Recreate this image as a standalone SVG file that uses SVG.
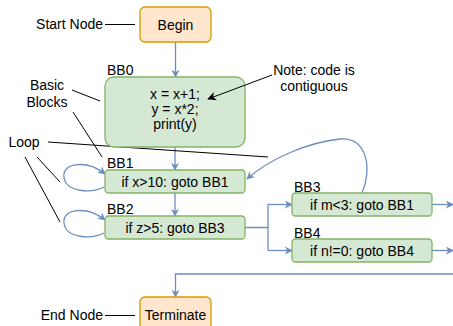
<svg xmlns="http://www.w3.org/2000/svg" width="453" height="326" viewBox="0 0 453 326">
<defs>
<marker id="ab" viewBox="0 0 10 10" refX="9" refY="5" markerWidth="8" markerHeight="8" markerUnits="userSpaceOnUse" orient="auto">
<path d="M0,0 L10,5 L0,10 L3,5 Z" fill="#6c8ebf"/>
</marker>
<marker id="ak" viewBox="0 0 10 10" refX="9" refY="5" markerWidth="9" markerHeight="9" markerUnits="userSpaceOnUse" orient="auto">
<path d="M0,0 L10,5 L0,10 L3,5 Z" fill="#000"/>
</marker>
<style>
text{font-family:"Liberation Sans",Arial,sans-serif;font-size:14px;fill:#000}
.m{text-anchor:middle}
.e{text-anchor:end}
.g{fill:#d5e8d4;stroke:#82b366;stroke-width:1.3}
.o{fill:#ffe6cc;stroke:#d79b00;stroke-width:1.3}
.c{fill:none;stroke:#6c8ebf;stroke-width:1.3;marker-end:url(#ab)}
.cn{fill:none;stroke:#6c8ebf;stroke-width:1.3}
.k{fill:none;stroke:#000;stroke-width:1}
</style>
</defs>
<g id="connectors">
<path class="c" d="M175.5 42 V77"/>
<path class="c" d="M175 147 V170"/>
<path class="c" d="M175 193 V216"/>
<path class="cn" d="M245 227.5 H268 M268 204.5 V250.5"/>
<path class="c" d="M268 204.5 H292"/>
<path class="c" d="M268 250.5 H292"/>
<path class="c" d="M432 204.5 H453"/>
<path class="c" d="M432 250.5 H453"/>
<path class="c" d="M453 274 H175.5 V297"/>
<path class="c" d="M104 187 C92 193 66 193 64 177 C62 162 88 160 105 174"/>
<path class="c" d="M104 233 C92 239 66 239 64 223 C62 208 88 206 105 220"/>
<path class="c" d="M362 193 C372 170 368 137 340 139 C310 142 270 158 247 179"/>
</g>
<g id="annotations">
<text class="e" x="103" y="29">Start Node</text>
<path class="k" d="M105 24.5 H135"/>
<text class="e" x="103" y="320">End Node</text>
<path class="k" d="M105 315.5 H135"/>
<text class="m" x="47" y="90">Basic</text>
<text class="m" x="47" y="107">Blocks</text>
<path class="k" d="M72 90 L100 101 M73 112 L102 157"/>
<text class="m" x="24" y="147">Loop</text>
<path class="k" d="M48 142 L268 157 M37 157 L60 182 M25 157 L60 222"/>
<text class="m" x="314" y="75">Note: code is</text>
<text class="m" x="314" y="91">contiguous</text>
</g>
<g id="begin">
<rect class="o" x="140" y="7" width="71" height="35" rx="5"/>
<text class="m" x="175.5" y="29.5">Begin</text>
</g>
<g id="bb0">
<text x="107" y="75">BB0</text>
<rect class="g" x="105" y="77" width="140" height="70" rx="9"/>
<text class="m" x="175" y="99">x = x+1;</text>
<text class="m" x="175" y="114">y = x*2;</text>
<text class="m" x="175" y="129">print(y)</text>
</g>
<g id="bb1">
<text x="107" y="168">BB1</text>
<rect class="g" x="105" y="170" width="140" height="23" rx="3.5"/>
<text class="m" x="175" y="186.5">if x&gt;10: goto BB1</text>
</g>
<g id="bb2">
<text x="107" y="214">BB2</text>
<rect class="g" x="105" y="216" width="140" height="23" rx="3.5"/>
<text class="m" x="175" y="232.5">if z&gt;5: goto BB3</text>
</g>
<g id="bb3">
<text x="294" y="192">BB3</text>
<rect class="g" x="292" y="193" width="140" height="23" rx="3.5"/>
<text class="m" x="362" y="209.5">if m&lt;3: goto BB1</text>
</g>
<g id="bb4">
<text x="294" y="238">BB4</text>
<rect class="g" x="292" y="239" width="140" height="23" rx="3.5"/>
<text class="m" x="362" y="255.5">if n!=0: goto BB4</text>
</g>
<g id="terminate">
<rect class="o" x="140" y="297" width="71" height="40" rx="5"/>
<text class="m" x="175.5" y="320">Terminate</text>
</g>
<g id="note-arrow">
<path class="k" d="M272 75 L208 99" style="marker-end:url(#ak)"/>
</g>
</svg>
